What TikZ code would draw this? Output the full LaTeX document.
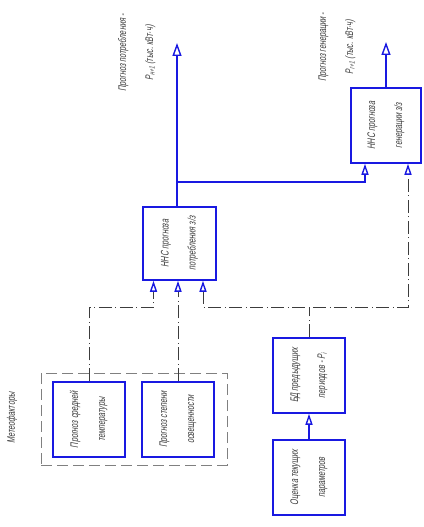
\documentclass[tikz,border=0pt]{standalone}
\usepackage{fontspec}
\usepackage{graphicx}
\newfontfamily\gost{Liberation Sans}[FakeStretch=0.66,FakeSlant=0.18]
\usetikzlibrary{arrows.meta,calc}
\definecolor{lblue}{RGB}{25,25,225}
\definecolor{tgray}{RGB}{60,60,60}
\definecolor{dgray}{RGB}{60,60,60}
\newcommand{\vtext}[2]{\rotatebox{90}{\begin{tabular}{@{}c@{}}#1\\[14pt]#2\end{tabular}}}
\begin{document}
\begin{tikzpicture}[x=1pt,y=-1pt,
  tip/.tip={Triangle[open,length=11pt,width=7pt,line width=1.4pt,color=lblue]},
  bigtip/.tip={Triangle[open,length=13pt,width=9pt,line width=1.4pt,color=lblue]},
  box/.style={draw=lblue,line width=1.5pt,minimum width=72pt,minimum height=75pt,inner sep=0pt,font=\gost\fontsize{11}{13}\selectfont,text=tgray},
  conn/.style={draw=lblue,line width=1.5pt},
  dd/.style={draw=dgray,line width=0.6pt,dash pattern=on 13pt off 3.5pt on 1pt off 3.5pt},
  grp/.style={draw=gray,line width=0.8pt,dash pattern=on 11pt off 5pt},
  lbl/.style={font=\gost\fontsize{11}{13}\selectfont,text=tgray,inner sep=0pt}]
\useasboundingbox (0,0) rectangle (423,527);
% boxes
\node[box,minimum width=73pt,minimum height=73pt] (nn1) at (179.5,243.5)
  {\vtext{ННС прогноза}{потребления з/з}};
\node[box,minimum width=70pt,minimum height=75pt] (nn2) at (386,125.5)
  {\vtext{ННС прогноза}{генерации з/з}};
\node[box] (bd) at (309,375.5)
  {\vtext{БД предыдущих}{периодов - P\textsubscript{i}}};
\node[box] (oc) at (309,477.5)
  {\vtext{Оценка текущих}{параметров}};
\node[box] (temp) at (89,419.5)
  {\vtext{Прогноз средней}{температуры}};
\node[box] (light) at (178,419.5)
  {\vtext{Прогноз степени}{освещенности}};
\node[grp,minimum width=186pt,minimum height=92pt,inner sep=0pt] (grp) at (134,419) {};
% labels
\node[lbl] (meteo) at (12,418) {\rotatebox{90}{Метеофакторы}};
\node[lbl] (lab1) at (137,53) {\vtext{Прогноз потребления -}{P\textsubscript{н+1} (тыс. кВт·ч)}};
\node[lbl] (lab2) at (337,47) {\vtext{Прогноз генерации -}{P\textsubscript{г+1} (тыс. кВт·ч)}};
% coordinates
\coordinate (out1) at (177,43);
\coordinate (out2) at (386,42);
\coordinate (split) at (177,182);
\coordinate (bus) at (0,307);
\coordinate (in1a) at ([xshift=-26pt]nn1.south);
\coordinate (in1b) at (light.north |- nn1.south);
\coordinate (in1c) at ([xshift=23.5pt]nn1.south);
\coordinate (in2a) at ([xshift=-21pt]nn2.south);
\coordinate (in2b) at ([xshift=22pt]nn2.south);
% solid connectors
\draw[conn,-bigtip] (nn1.north -| out1) -- (out1);
\draw[conn,-tip] (split) -| (in2a);
\draw[conn,-bigtip] (nn2.north) -- (out2);
\draw[conn,-tip] (oc.north) -- (bd.south);
% dash-dot connectors
\draw[dd] (bd.north) -- (bd.north |- bus);
\draw[dd,tip-tip] (in1c) -- (in1c |- bus) -- (in2b |- bus) -- (in2b);
\draw[dd,-tip] (temp.north) -- (temp.north |- bus) -- (in1a |- bus) -- (in1a);
\draw[dd,-tip] (light.north) -- (in1b);
\end{tikzpicture}
\end{document}
